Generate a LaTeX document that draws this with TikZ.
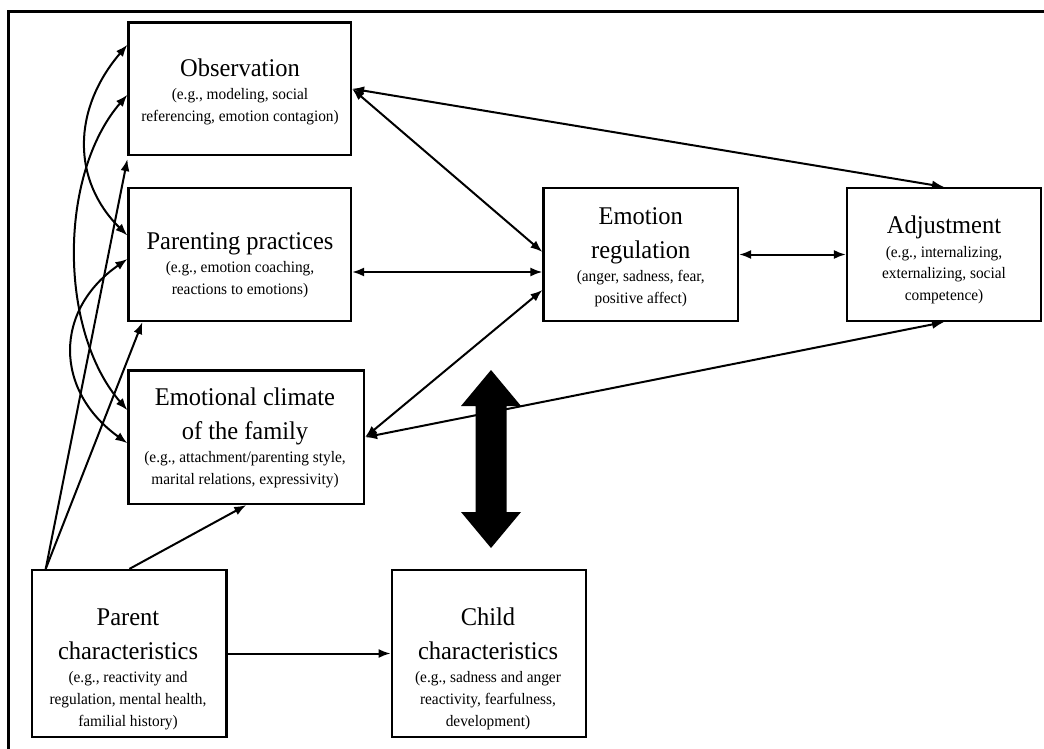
\documentclass[tikz,border=0pt]{standalone}
\usepackage{fontspec}
\setmainfont{Liberation Serif}[FakeStretch=0.96]
\usetikzlibrary{arrows.meta,calc}
\newcommand\boxtitle{\fontsize{25.5}{34}\selectfont}
\newcommand\boxnote{\fontsize{16}{21.7}\selectfont}
% a centred stack of lines with fixed line heights
\newcommand\stack[1]{\vbox{\offinterlineskip\halign{\hfil##\hfil\cr#1\crcr}}}
\newcommand\tline[1]{\boxtitle\vrule height26pt depth8pt width0pt #1\cr}
\newcommand\nline[1]{\boxnote\vrule height15.5pt depth6.2pt width0pt #1\cr}
\begin{document}
\begin{tikzpicture}[x=1pt,y=-1pt,
  >={Latex[length=12pt,width=9pt]},
  panel/.style={draw,line width=2.2pt,rectangle,inner sep=0pt},
  boxtext/.style={anchor=north,inner sep=0pt},
  link/.style={line width=2pt,<->},
  feed/.style={line width=2pt,->}]
% page and the open frame
\useasboundingbox[fill=white] (0,0) rectangle (1044,749);
\draw[line width=3pt] (8,752) -- (8,12) -- (1047,12);

% boxes
\node[panel,minimum width=222.5pt,minimum height=132.5pt] (obs)  at (239.75,88.75) {};
\node[panel,minimum width=222.5pt,minimum height=133pt]   (pp)   at (239.75,254.5) {};
\node[panel,minimum width=235.5pt,minimum height=133.5pt] (clim) at (246.25,437.25) {};
\node[panel,minimum width=194.5pt,minimum height=133pt]   (er)   at (640.75,254.5) {};
\node[panel,minimum width=194pt,minimum height=133pt]     (adj)  at (944,254.5) {};
\node[panel,minimum width=194.2pt,minimum height=167pt]   (pc)   at (129.4,653.5) {};
\node[panel,minimum width=194.3pt,minimum height=167pt]   (cc)   at (488.85,653.5) {};

% box texts
\node[boxtext] (obs-t) at (240,50) {\stack{%
  \tline{Observation}\nline{(e.g., modeling, social}\nline{referencing, emotion contagion)}}};
\node[boxtext] (pp-t) at (240,223) {\stack{%
  \tline{Parenting practices}\nline{(e.g., emotion coaching,}\nline{reactions to emotions)}}};
\node[boxtext] (clim-t) at (245,379) {\stack{%
  \tline{Emotional climate}\tline{of the family}%
  \nline{(e.g., attachment/parenting style,}\nline{marital relations, expressivity)}}};
\node[boxtext] (er-t) at (640.75,198) {\stack{%
  \tline{Emotion}\tline{regulation}\nline{(anger, sadness, fear,}\nline{positive affect)}}};
\node[boxtext] (adj-t) at (944,207.3) {\stack{%
  \tline{Adjustment}\nline{(e.g., internalizing,}\nline{externalizing, social}\nline{competence)}}};
\node[boxtext] (pc-t) at (128,599) {\stack{%
  \tline{Parent}\tline{characteristics}\nline{(e.g., reactivity and}%
  \nline{regulation, mental health,}\nline{familial history)}}};
\node[boxtext] (cc-t) at (488,599) {\stack{%
  \tline{Child}\tline{characteristics}\nline{(e.g., sadness and anger}%
  \nline{reactivity, fearfulness,}\nline{development)}}};

% links to emotion regulation and adjustment
\draw[link] (obs.east) -- (adj.north);
\draw[link] (obs.east) -- ($(er.west)+(0,-2.5)$);
\draw[link] ($(pp.east)+(0,17.5)$) -- ($(er.west)+(0,17.5)$);
\draw[link] (clim.east) -- ($(er.west)+(0,35.5)$);
\draw[link] (clim.east) -- (adj.south);
\draw[link] (er.east) -- (adj.west);

% parent characteristics
\coordinate (pcorner) at ($(pc.north west)+(14.5,0)$);
\draw[feed] (pc.east) -- (cc.west);
\draw[feed] (pc.north) -- (clim.south);
\draw[feed] (pcorner) -- ($(obs.south west)+(0,3)$);
\draw[feed] (pcorner) -- ($(pp.south west)+(15,0)$);

% curved links among the three family processes
\draw[link] ($(obs.west)+(0,-44)$) .. controls +(-55.5,65) and +(-55.5,-55) .. ($(pp.west)+(0,-19)$);
\draw[link] ($(obs.west)+(0,6)$) .. controls +(-69,80) and +(-69,-80) .. ($(clim.west)+(0,-27)$);
\draw[link] ($(pp.west)+(0,4.5)$) .. controls +(-73.5,51) and +(-73.5,-53) .. ($(clim.west)+(0,6)$);

% heavy two-way arrow toward child characteristics
\fill (491,370) -- (521,406) -- (506.5,406) -- (506.5,512) -- (521,512) -- (491,548)
  -- (461,512) -- (475.5,512) -- (475.5,406) -- (461,406) -- cycle;
\end{tikzpicture}
\end{document}
